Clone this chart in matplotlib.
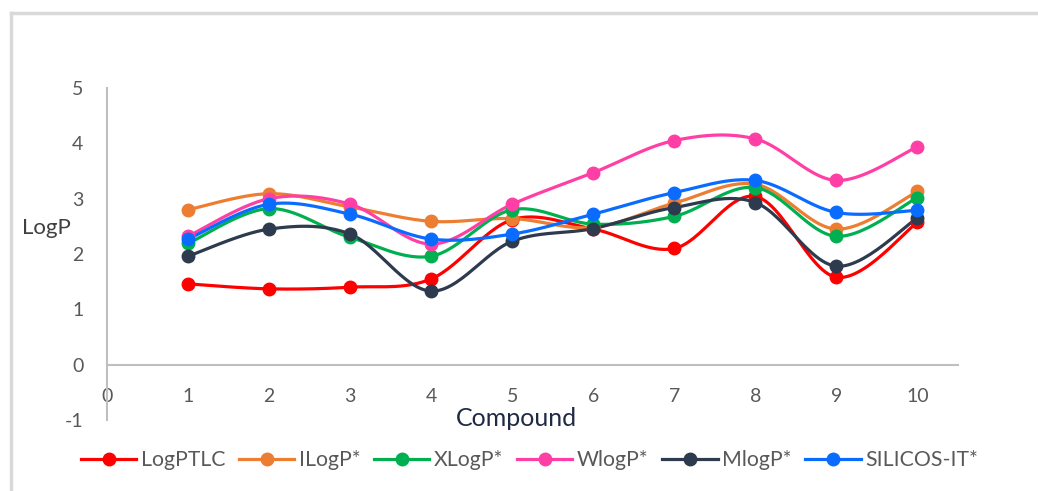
import numpy as np
import matplotlib
matplotlib.use("Agg")
import matplotlib.pyplot as plt
from matplotlib.lines import Line2D

compounds = [1, 2, 3, 4, 5, 6, 7, 8, 9, 10]
logptlc = [1.46, 1.37, 1.40, 1.55, 2.62, 2.45, 2.10, 3.04, 1.58, 2.57]
ilogp   = [2.80, 3.09, 2.85, 2.59, 2.64, 2.48, 2.92, 3.26, 2.45, 3.13]
xlogp   = [2.19, 2.82, 2.30, 1.96, 2.80, 2.54, 2.68, 3.20, 2.32, 3.02]
wlogp   = [2.32, 3.00, 2.90, 2.18, 2.90, 3.47, 4.05, 4.08, 3.33, 3.94]
mlogp   = [1.96, 2.45, 2.36, 1.33, 2.23, 2.46, 2.84, 2.93, 1.78, 2.65]
silicos = [2.27, 2.90, 2.72, 2.27, 2.36, 2.72, 3.11, 3.33, 2.75, 2.79]

series_names = ["LogPTLC", "ILogP*", "XLogP*", "WlogP*", "MlogP*", "SILICOS-IT*"]
series_vals = [logptlc, ilogp, xlogp, wlogp, mlogp, silicos]
colors = ["#FF0000", "#ED7D31", "#00B050", "#FF3FA6", "#2E3A4E", "#0A6CFF"]
xticks = [0, 1, 2, 3, 4, 5, 6, 7, 8, 9, 10]
yticks = [-1, 0, 1, 2, 3, 4, 5]

plt.rcParams['font.family'] = ['Lato', 'DejaVu Sans']
plt.rcParams['axes.unicode_minus'] = False


def smooth(x, y, n=30):
    x = np.asarray(x, float)
    y = np.asarray(y, float)
    P = np.column_stack([x, y])
    Pe = np.vstack([P[0], P, P[-1]])
    out = []
    for i in range(len(P) - 1):
        p0, p1, p2, p3 = Pe[i], Pe[i + 1], Pe[i + 2], Pe[i + 3]
        c1 = p1 + (p2 - p0) / 6.0
        c2 = p2 - (p3 - p1) / 6.0
        t = np.linspace(0, 1, n)[:, None]
        b = ((1 - t) ** 3) * p1 + 3 * ((1 - t) ** 2) * t * c1 + 3 * (1 - t) * t ** 2 * c2 + t ** 3 * p2
        out.append(b if i == 0 else b[1:])
    out = np.vstack(out)
    return out[:, 0], out[:, 1]


fig = plt.figure(figsize=(10.38, 4.91), dpi=100)
ax = fig.add_axes([0.1031, 0.1446, 0.8198, 0.6762])

handles = []
for name, vals, c in zip(series_names, series_vals, colors):
    sx, sy = smooth(compounds, vals)
    ax.plot(sx, sy, color=c, lw=2.3, solid_capstyle='round', zorder=2)
    ax.plot(compounds, vals, 'o', color=c, ms=9, zorder=3)
    handles.append(Line2D([0], [0], color=c, lw=2.3, marker='o', ms=9))

ax.set_xlim(0, 10.5)
ax.set_ylim(-1, 5)
ax.set_xticks(xticks)
ax.set_yticks(yticks)
ax.spines['top'].set_visible(False)
ax.spines['right'].set_visible(False)
ax.spines['bottom'].set_position(('data', 0))
for s in ('left', 'bottom'):
    ax.spines[s].set_color('#BFBFBF')
    ax.spines[s].set_linewidth(1.5)
ax.tick_params(axis='both', length=0, labelsize=14, colors='#595959')
ax.tick_params(axis='x', pad=17)
ax.tick_params(axis='y', pad=17)

fig.text(22 / 1038, 1 - 228 / 491, "LogP", fontsize=16, color='#404040',
         ha='left', va='center')
fig.text(516 / 1038, 1 - 419 / 491, "Compound", fontsize=18, color='#1F2A44',
         ha='center', va='center', zorder=5,
         bbox=dict(facecolor='white', edgecolor='none', pad=1.5))

leg = fig.legend(handles, series_names, loc='center', ncol=6,
                 bbox_to_anchor=(0.510, 1 - 460 / 491), frameon=False,
                 fontsize=15.3, handlelength=2.6, handletextpad=0.2,
                 columnspacing=0.66, labelcolor='#595959')

# chart frame (light gray)
fig.add_artist(Line2D([11 / 1038, 11 / 1038], [0, 1 - 13 / 491], transform=fig.transFigure,
                      color='#D9D9D9', lw=2.5))
fig.add_artist(Line2D([11 / 1038, 1], [1 - 13 / 491, 1 - 13 / 491], transform=fig.transFigure,
                      color='#D9D9D9', lw=2.5))

fig.savefig("out.png", dpi=100)
